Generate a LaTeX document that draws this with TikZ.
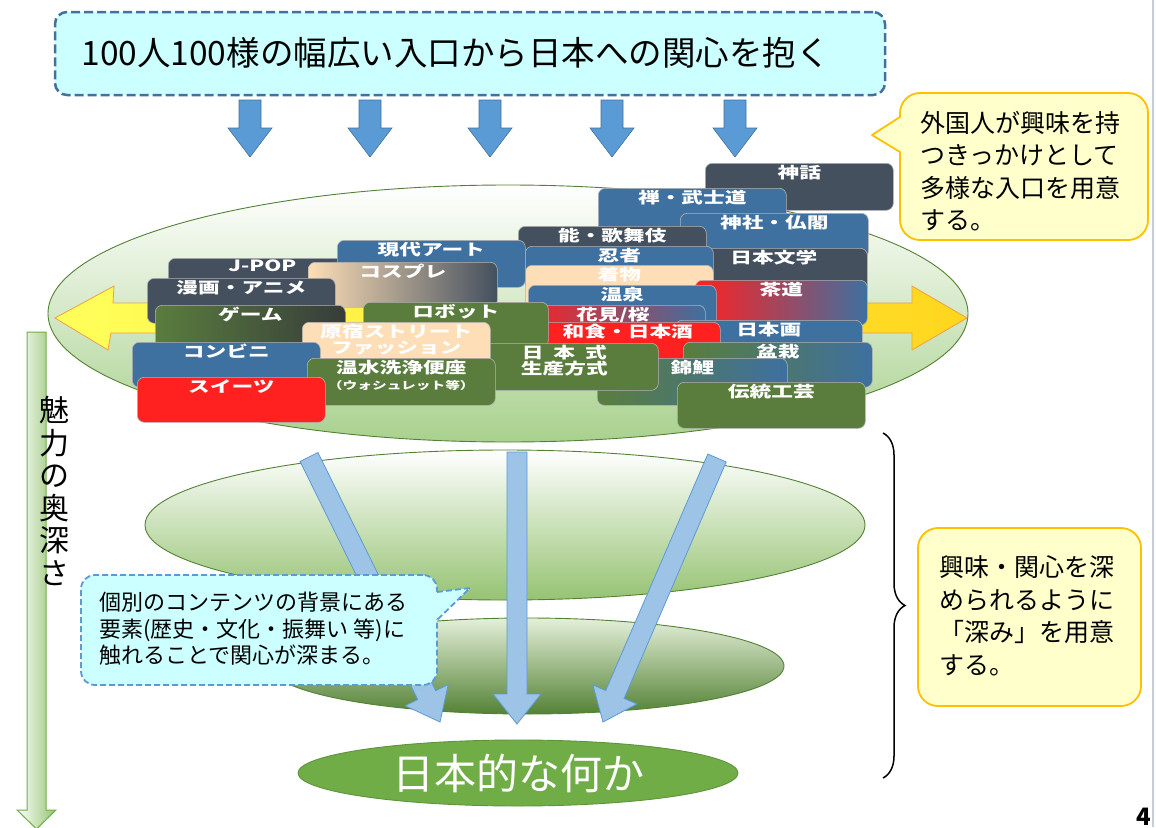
\documentclass[tikz,border=0pt]{standalone}
\usepackage{fontspec}
\setmainfont{Noto Sans CJK JP}
\newfontfamily\lblfont[FakeStretch=1.4]{Noto Sans CJK JP}
\usetikzlibrary{shapes.geometric, calc, decorations.pathreplacing}

\definecolor{titlefill}{RGB}{204,255,255}
\definecolor{titleline}{RGB}{65,113,156}
\definecolor{arrowblue}{RGB}{91,155,213}
\definecolor{paleblue}{RGB}{157,195,230}
\definecolor{notefill}{RGB}{255,255,204}
\definecolor{noteline}{RGB}{255,192,0}
\definecolor{slateblk}{RGB}{68,80,94}
\definecolor{blueblk}{RGB}{62,112,160}
\definecolor{greenblk}{RGB}{90,125,62}
\definecolor{peachblk}{RGB}{253,222,182}
\definecolor{redblk}{RGB}{255,32,32}
\definecolor{darkblk}{RGB}{55,60,58}
\definecolor{layline}{RGB}{84,130,53}
\definecolor{layone}{RGB}{169,209,142}
\definecolor{laytwo}{RGB}{150,195,115}
\definecolor{laythreetop}{RGB}{228,240,218}
\definecolor{laythree}{RGB}{84,130,53}
\definecolor{corefill}{RGB}{112,173,71}
\definecolor{wideyellow}{RGB}{255,255,90}
\definecolor{deepyellow}{RGB}{255,214,30}
\definecolor{wideline}{RGB}{237,160,70}
\definecolor{edgegray}{RGB}{200,206,216}

% block arrow: style, start, end, half shaft, half head, head length
\newcommand{\blockarrow}[6]{%
  \coordinate (ba-h) at ($(#3)!#6pt!(#2)$);
  \path[#1] ($(#2)!#4pt!90:(#3)$) -- ($(ba-h)!#4pt!90:(#3)$)
    -- ($(ba-h)!#5pt!90:(#3)$) -- (#3)
    -- ($(ba-h)!#5pt!-90:(#3)$) -- ($(ba-h)!#4pt!-90:(#3)$)
    -- ($(#2)!#4pt!-90:(#3)$) -- cycle;
}

\begin{document}
\begin{tikzpicture}[x=1pt, y=-1pt,
    blk/.style={rectangle, rounded corners=7pt, anchor=north west, minimum width=188pt, minimum height=45pt, inner sep=0pt, draw=black!30, line width=0.6pt, label={[lbl]north:{#1}}},
    lbl/.style={anchor=north, inner sep=0pt, yshift=-2pt, text=white, align=center, font=\lblfont\bfseries\fontsize{15.5}{16}\selectfont},
    titlebox/.style={rectangle, rounded corners=12pt, fill=titlefill, draw=titleline, line width=2.5pt, dash pattern=on 9pt off 4pt},
    downarrow/.style={fill=arrowblue, draw=titleline, line width=0.6pt},
    deeparrow/.style={fill=paleblue, draw=arrowblue, line width=0.8pt},
    widearrow/.style={left color=wideyellow, right color=deepyellow, draw=wideline, line width=0.8pt},
    notebox/.style={rectangle, rounded corners=20pt, fill=notefill, draw=noteline, line width=1.8pt},
    notetext/.style={anchor=west, align=left, font=\fontsize{25}{32.5}\selectfont},
    hintbox/.style={rectangle, rounded corners=14pt, fill=titlefill, draw=arrowblue, line width=1.8pt, dash pattern=on 6pt off 3pt},
    layer/.style={ellipse, draw=layline, line width=0.9pt, inner sep=0pt},
]
\useasboundingbox (0,0) rectangle (1156,827);
\fill[white] (0,0) rectangle (1156,827);
\draw[edgegray, line width=1.5pt] (1153,0) -- (1153,827);

% Title and entry arrows
\node[titlebox, minimum width=830pt, minimum height=83pt] (title) at (470,53.5) {};
\node[anchor=west, font=\fontsize{33.5}{36}\selectfont] (titletext) at (78,53) {100人100様の幅広い入口から日本への関心を抱く};
\foreach \x [count=\i] in {250,370,490,612,735} {
    \coordinate (dtop\i) at (\x,100);
    \coordinate (dtip\i) at (\x,157);
    \blockarrow{downarrow}{dtop\i}{dtip\i}{11}{22}{29}
}

% Callout: entrances
\node[notebox, minimum width=248pt, minimum height=147pt] (note1) at (1024,166.5) {};
\fill[notefill] (901.5,117) -- (872,135) -- (901.5,152) -- cycle;
\draw[noteline, line width=1.8pt, line join=round] (900,117) -- (872,135) -- (900,152);
\node[notetext] (note1text) at (917,171) {外国人が興味を持\\つきっかけとして\\多様な入口を用意\\する。};

% Entry layer
\node[layer, top color=white, bottom color=layone, minimum width=920pt, minimum height=257pt] (entry) at (508,313.5) {};
\path[widearrow] (55,318) -- (114,286) -- (113,303) -- (912,303) -- (912,286) -- (967,318)
    -- (912,350) -- (912,333) -- (111,333) -- (108,350) -- cycle;

% Contents, back to front
\node[blk=神話, fill=slateblk, minimum height=47pt] (shinwa) at (705,163) {};
\node[blk=禅・武士道, fill=blueblk] (zen) at (598,188) {};
\node[blk=神社・仏閣, fill=blueblk] (jinja) at (680,213) {};
\node[blk=能・歌舞伎, fill=slateblk] (noh) at (518,226) {};
\node[blk=日本文学, fill=slateblk, minimum width=187pt] (bungaku) at (680,248) {};
\node[blk=忍者, fill=blueblk] (ninja) at (525,246) {};
\node[blk=着物, fill=peachblk] (kimono) at (525,265) {};
\node[blk=茶道, left color=redblk, right color=blueblk, minimum width=172pt] (sado) at (695,280) {};
\node[blk=温泉, fill=blueblk] (onsen) at (528,285) {};
\node[blk=花見/桜, left color=redblk, right color=blueblk, minimum width=185pt] (hanami) at (520,305) {};
\node[blk=日本画, fill=blueblk, minimum width=187pt] (nihonga) at (675,320) {};
\node[blk=和食・日本酒, fill=redblk, minimum width=185pt] (washoku) at (535,322) {};
\node[blk=盆栽, left color=greenblk, right color=blueblk, minimum width=189pt] (bonsai) at (683,342) {};
\node[blk=錦鯉, left color=greenblk, right color=blueblk, minimum width=190pt, minimum height=47pt] (koi) at (597,358) {};
\node[blk=伝統工芸, fill=greenblk, minimum height=46pt] (kogei) at (677,382) {};
\node[blk=J-POP, fill=slateblk] (jpop) at (168,258) {};
\node[blk=現代アート, fill=blueblk, minimum height=47pt] (gendai) at (337,240) {};
\node[blk=コスプレ, left color=peachblk, middle color=peachblk!45!slateblk, right color=slateblk, minimum width=189pt] (cosplay) at (308,262) {};
\node[blk=漫画・アニメ, fill=slateblk] (manga) at (147,278) {};
\node[blk=ゲーム, left color=greenblk, right color=darkblk, minimum width=190pt] (game) at (155,305) {};
\node[blk=ロボット, fill=greenblk, minimum width=185pt] (robot) at (363,302) {};
\node[blk={日~~本~~式\\生産方式}, fill=greenblk, minimum height=47pt] (seisan) at (470,343) {};
\node[blk={原宿ストリート\\ファッション}, fill=peachblk] (harajuku) at (302,322) {};
\node[blk=コンビニ, fill=blueblk] (konbini) at (132,342) {};
\node[blk={温水洗浄便座\\{\fontsize{10.5}{12}\selectfont （ウォシュレット等）}}, fill=greenblk, minimum height=47pt] (washlet) at (307,358) {};
\node[blk=スイーツ, fill=redblk] (sweets) at (137,377) {};

% Deeper layers
\node[layer, top color=white, bottom color=laytwo, minimum width=720pt, minimum height=150pt] (depth1) at (505,525) {};
\node[layer, top color=laythreetop, bottom color=laythree, minimum width=514pt, minimum height=96pt] (depth2) at (527,666) {};
\node[layer, fill=corefill, draw=corefill!85!black, minimum width=440pt, minimum height=66pt, text=white, font=\fontsize{42}{44}\selectfont] (core) at (518,773) {日本的な何か};

\coordinate (ltop) at (309,457);
\coordinate (ltip) at (440,722);
\coordinate (mtop) at (517,452);
\coordinate (mtip) at (517,724);
\coordinate (rtop) at (717,458);
\coordinate (rtip) at (603,722);
\blockarrow{deeparrow}{ltop}{ltip}{10}{24}{30}
\blockarrow{deeparrow}{mtop}{mtip}{10}{24}{30}
\blockarrow{deeparrow}{rtop}{rtip}{10}{24}{30}

% Callout: background
\node[hintbox, minimum width=356pt, minimum height=110pt] (hint) at (259,630) {};
\fill[titlefill] (435.5,592) -- (470,588) -- (435.5,620) -- cycle;
\draw[arrowblue, line width=1.8pt, dash pattern=on 6pt off 3pt] (437,592) -- (470,588) -- (437,620);
\node[anchor=west, align=left, font=\fontsize{22}{26.5}\selectfont] (hinttext) at (96,629) {個別のコンテンツの背景にある\\要素(歴史・文化・振舞い 等)に\\触れることで関心が深まる。};

% Depth axis
\path[left color=white, right color=laytwo, draw=corefill, line width=1pt] (27,332) -- (46,332) -- (46,810) -- (56,810) -- (36.5,829) -- (17,810) -- (27,810) -- cycle;
\node[align=center, font=\fontsize{30}{32.5}\selectfont] (depthtext) at (54,491) {魅\\力\\の\\奥\\深\\さ};

% Brace and callout: depth
\draw[decorate, decoration={brace, amplitude=22pt}, line width=1.5pt] (883,433) -- (883,778);
\node[notebox, minimum width=223pt, minimum height=178pt] (note2) at (1029.5,617) {};
\node[notetext] (note2text) at (936,616) {興味・関心を深\\められるように\\「深み」を用意\\する。};

% page number
\node[anchor=south, inner sep=0pt, font=\bfseries\fontsize{24}{24}\selectfont] (pageno) at (1144,826) {4};
\end{tikzpicture}
\end{document}
